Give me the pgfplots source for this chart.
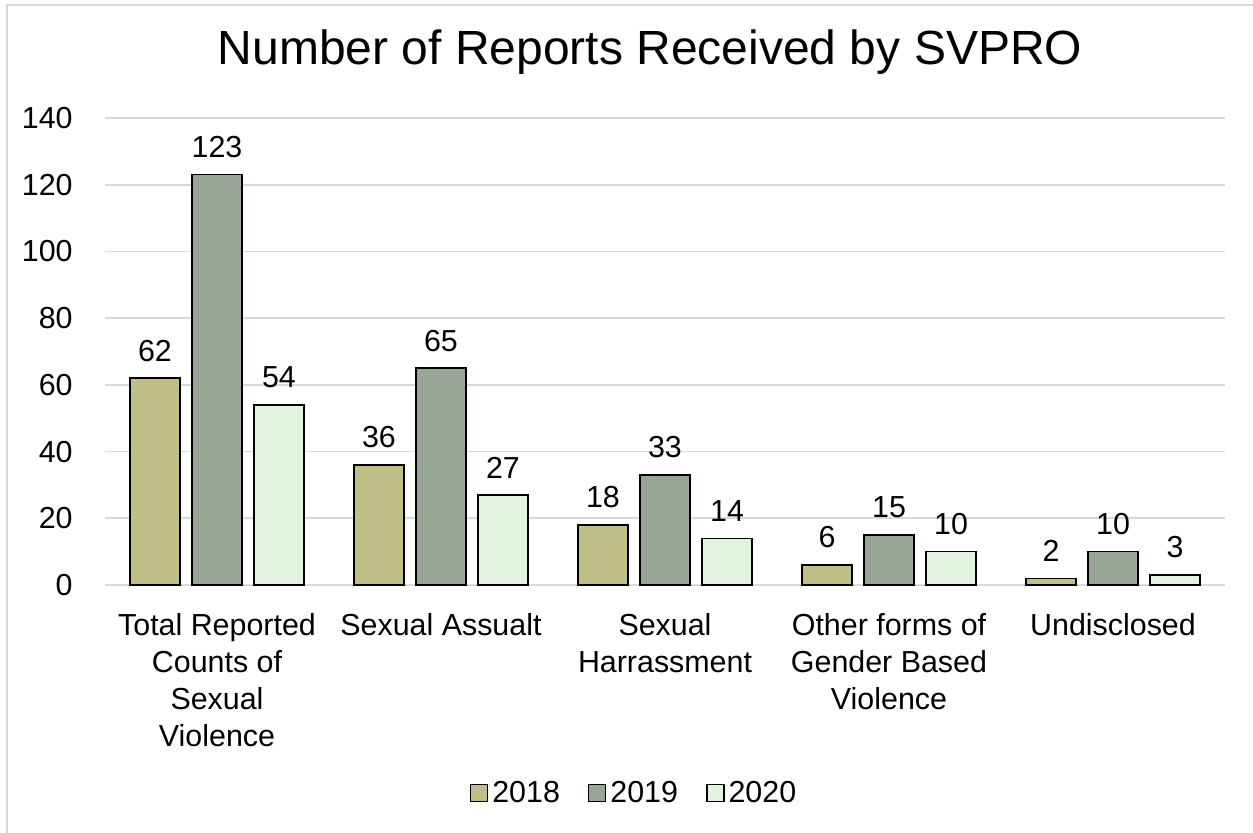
\documentclass[border=0pt]{standalone}
\usepackage{pgfplots}
\pgfplotsset{compat=1.18}
\usepackage{fontspec}
\setmainfont{Liberation Sans}
\definecolor{c2018}{HTML}{C0BF87}
\definecolor{c2019}{HTML}{97A595}
\definecolor{c2020}{HTML}{E2F3E0}
\definecolor{gridc}{HTML}{D9D9D9}
\begin{document}
\begin{tikzpicture}
\useasboundingbox (0,0) rectangle (626.5pt,416pt);
\draw[gridc, line width=0.8pt] (3.5pt,-10pt) rectangle (640pt,413.5pt);
\node[font=\fontsize{24}{28}\selectfont] at (325pt,390pt) {Number of Reports Received by SVPRO};
\begin{axis}[
  at={(52.5pt,123.5pt)}, anchor=south west,
  scale only axis, width=560pt, height=233.5pt,
  xmin=-0.5, xmax=4.5, ymin=0, ymax=140,
  ytick={0,20,...,140},
  xtick={0,1,2,3,4},
  xticklabels={{Total Reported\\Counts of\\Sexual\\Violence},{Sexual Assualt},{Sexual\\Harrassment},{Other forms of\\Gender Based\\Violence},{Undisclosed}},
  xticklabel style={align=center, anchor=north, inner sep=0pt, yshift=-10pt, font=\fontsize{15.2}{18.5}\selectfont},
  yticklabel style={anchor=east, inner sep=0pt, xshift=-16pt, font=\fontsize{15.2}{18}\selectfont},
  /pgf/number format/assume math mode=true,
  axis line style={draw=none},
  tick style={draw=none},
  ymajorgrids, grid style={gridc, line width=0.8pt},
  ybar, bar width=25pt,
  nodes near coords,
  every node near coord/.append style={font=\fontsize{15.2}{18}\selectfont, anchor=south, inner sep=0pt, yshift=8pt, black},
  legend style={at={(265pt,-104pt)}, anchor=center, draw=none, legend columns=3,
     font=\fontsize{15.2}{18}\selectfont, /tikz/every even column/.append style={column sep=12pt},
     legend cell align=left},
  legend image code/.code={\draw[#1, line width=0.75pt] (0pt,-4.2pt) rectangle (8.5pt,4.3pt);},
]
\addplot[bar shift=-31pt, fill=c2018, draw=black, line width=0.75pt] coordinates {(0,62) (1,36) (2,18) (3,6) (4,2)};
\addplot[bar shift=0pt, fill=c2019, draw=black, line width=0.75pt] coordinates {(0,123) (1,65) (2,33) (3,15) (4,10)};
\addplot[bar shift=31pt, fill=c2020, draw=black, line width=0.75pt] coordinates {(0,54) (1,27) (2,14) (3,10) (4,3)};
\legend{2018,2019,2020}
\end{axis}
\end{tikzpicture}
\end{document}
